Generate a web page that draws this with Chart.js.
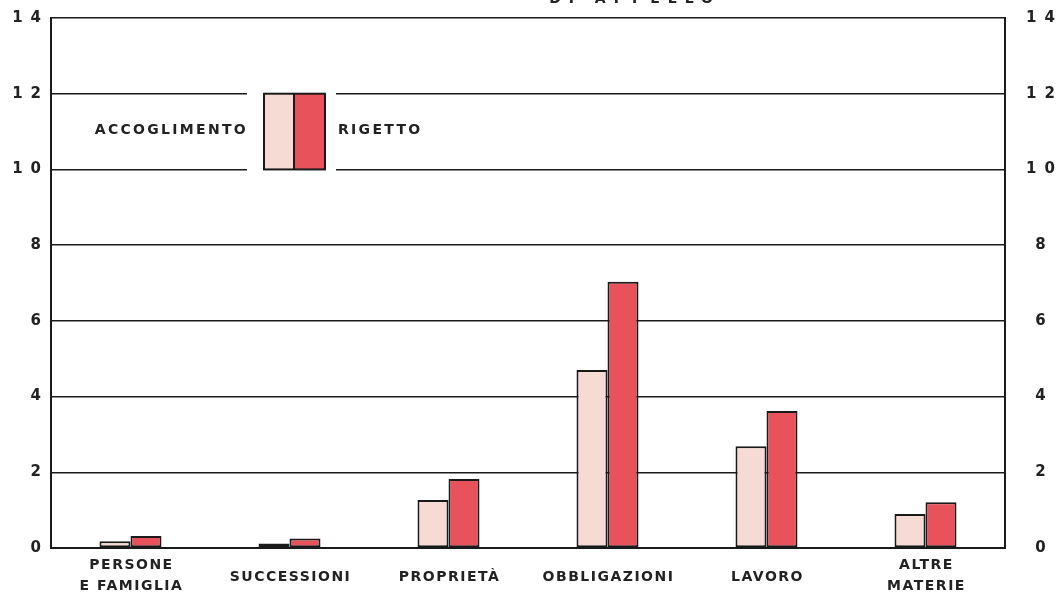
<!DOCTYPE html>
<html>
<head>
<meta charset="utf-8">
<script src="https://cdn.jsdelivr.net/npm/chart.js@4/dist/chart.umd.min.js"></script>
<style>
  html, body { margin: 0; padding: 0; background: #fff; overflow: hidden; }
  #wrap { position: relative; width: 1057px; height: 597px; }
  #top-title {
    position: absolute; right: 336px; top: -9px;
    font: bold 14px "DejaVu Sans", sans-serif; letter-spacing: 8px;
    line-height: 14px; color: #222; white-space: nowrap;
  }
</style>
</head>
<body>
<div id="wrap">
  <div id="top-title">DI APPELLO</div>
  <canvas id="chart" width="1057" height="597"></canvas>
</div>
<script>
const categories = [
  ['PERSONE', 'E FAMIGLIA'],
  ['SUCCESSIONI'],
  ['PROPRIETÀ'],
  ['OBBLIGAZIONI'],
  ['LAVORO'],
  ['ALTRE', 'MATERIE'],
];
const accoglimento = [0.18, 0.12, 1.27, 4.7, 2.69, 0.9];
const rigetto = [0.32, 0.25, 1.82, 7.03, 3.62, 1.21];
const yTicks = [0, 2, 4, 6, 8, 10, 12, 14];

const LIGHT = '#f6dbd5';
const RED = '#e8525b';
const INK = '#1a1a1a';
const FONT = '"DejaVu Sans", sans-serif';

// spaced-out lettering like the original stencil (canvas resize wipes it, so set it late)
const spacing = {
  id: 'spacing',
  beforeUpdate(chart) {
    chart.ctx.letterSpacing = '8px';
  },
  beforeDraw(chart) {
    chart.ctx.letterSpacing = '8px';
  },
};

// category names under the axis, centred on their slot
const catLabels = {
  id: 'catLabels',
  afterDraw(chart) {
    const { ctx } = chart;
    const x = chart.scales.x;
    ctx.save();
    ctx.letterSpacing = '1.5px';
    ctx.font = `bold 14px ${FONT}`;
    ctx.fillStyle = '#222';
    ctx.textAlign = 'center';
    ctx.textBaseline = 'middle';
    categories.forEach((lines, i) => {
      const cx = x.getPixelForValue(i) + 1;
      if (lines.length === 1) {
        ctx.fillText(lines[0], cx, 577);
      } else {
        ctx.fillText(lines[0], cx, 565);
        ctx.fillText(lines[1], cx, 586);
      }
    });
    ctx.restore();
  },
};

// swatch box sitting between the 12 and 10 lines
const swatch = {
  id: 'swatch',
  afterDraw(chart) {
    const { ctx } = chart;
    const y = chart.scales.y;
    const top = y.getPixelForValue(12);
    const bottom = y.getPixelForValue(10);
    const left = 264;
    const mid = 294;
    const right = 325;
    const ds = chart.data.datasets;

    ctx.save();
    ctx.fillStyle = '#fff';
    ctx.fillRect(247, top - 3, 89, bottom - top + 6);

    ctx.fillStyle = ds[0].backgroundColor;
    ctx.fillRect(left, top, mid - left, bottom - top);
    ctx.fillStyle = ds[1].backgroundColor;
    ctx.fillRect(mid, top, right - mid, bottom - top);
    ctx.strokeStyle = INK;
    ctx.lineWidth = 2;
    ctx.strokeRect(left, top, right - left, bottom - top);
    ctx.beginPath();
    ctx.moveTo(mid, top);
    ctx.lineTo(mid, bottom);
    ctx.stroke();

    ctx.letterSpacing = '2.3px';
    ctx.font = `bold 14px ${FONT}`;
    ctx.fillStyle = '#222';
    ctx.textBaseline = 'middle';
    const cy = (top + bottom) / 2 - 1;
    ctx.textAlign = 'right';
    ctx.fillText(ds[0].label, 248, cy);
    ctx.textAlign = 'left';
    ctx.fillText(ds[1].label, 338, cy);
    ctx.restore();
  },
};

const tickFont = { family: FONT, size: 15, weight: 'bold' };

new Chart(document.getElementById('chart').getContext('2d'), {
  type: 'bar',
  data: {
    labels: categories,
    datasets: [
      {
        label: 'ACCOGLIMENTO',
        data: accoglimento,
        backgroundColor: LIGHT,
        borderColor: INK,
        borderWidth: 2,
        borderSkipped: false,
        yAxisID: 'y',
      },
      {
        label: 'RIGETTO',
        data: rigetto,
        backgroundColor: RED,
        borderColor: INK,
        borderWidth: 2,
        borderSkipped: false,
        yAxisID: 'y',
      },
    ],
  },
  options: {
    responsive: false,
    maintainAspectRatio: false,
    animation: false,
    datasets: {
      bar: { categoryPercentage: 0.39, barPercentage: 1 },
    },
    layout: { padding: { top: 18, left: 0, right: 0, bottom: 0 } },
    plugins: {
      legend: { display: false },
      tooltip: { enabled: false },
    },
    scales: {
      x: {
        grid: { display: false },
        border: { display: true, color: INK, width: 2 },
        ticks: { display: false },
        afterFit: (scale) => { scale.height = 49; },
      },
      y: {
        position: 'left',
        min: 0,
        max: 14,
        afterBuildTicks: (scale) => {
          scale.ticks = yTicks.map((value) => ({ value }));
        },
        grid: { color: INK, lineWidth: 1.5, drawTicks: false },
        border: { display: true, color: INK, width: 2 },
        ticks: { font: tickFont, color: '#222', padding: 2 },
        afterFit: (scale) => { scale.width = 51; },
      },
      y2: {
        position: 'right',
        min: 0,
        max: 14,
        afterBuildTicks: (scale) => {
          scale.ticks = yTicks.map((value) => ({ value }));
        },
        grid: { display: false, drawTicks: false },
        border: { display: true, color: INK, width: 2 },
        ticks: { font: tickFont, color: '#222', padding: 21, crossAlign: 'center' },
        afterFit: (scale) => {
          scale.width = 52;
          // label padding would otherwise push the plot top down
          scale.paddingTop = 9;
          scale.paddingBottom = 9;
        },
      },
    },
  },
  plugins: [spacing, catLabels, swatch],
});
</script>
</body>
</html>
